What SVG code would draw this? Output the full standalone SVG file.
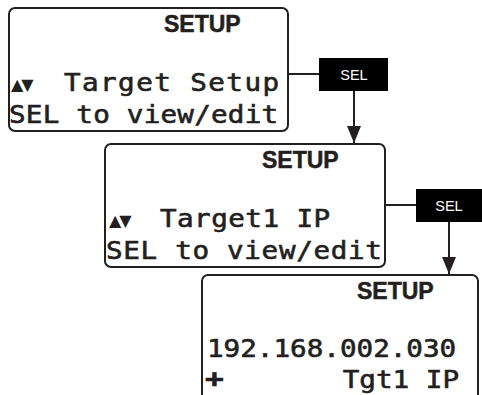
<svg xmlns="http://www.w3.org/2000/svg" width="482" height="395" viewBox="0 0 482 395">
<style>
.box{fill:#fff;stroke:#231f20;stroke-width:2}
.lcd{font-family:"DejaVu Sans Mono","Liberation Mono",monospace;font-size:24px;fill:#231f20;stroke:#231f20;stroke-width:0.6}
.arr{font-family:"DejaVu Sans","Liberation Sans",sans-serif;font-size:16px;fill:#231f20}
.title{font-family:"Liberation Sans",Arial,sans-serif;font-weight:bold;font-size:23px;fill:#231f20;stroke:#231f20;stroke-width:0.5}
.selbox{fill:#000}
.seltxt{font-family:"Liberation Sans",Arial,sans-serif;font-size:14.5px;fill:#fff;text-anchor:middle}
.conn{stroke:#231f20;stroke-width:2;fill:none}
</style>
<defs>
<marker id="ah" markerUnits="userSpaceOnUse" markerWidth="17" markerHeight="14" viewBox="0 0 17 14" refX="17" refY="7" orient="auto">
<path d="M0,0 L17,7 L0,14 z" fill="#231f20"/>
</marker>
</defs>
<g id="connectors">
<line class="conn" x1="288" y1="74" x2="320" y2="74"/>
<line class="conn" x1="354" y1="90" x2="354" y2="143" marker-end="url(#ah)"/>
<line class="conn" x1="385" y1="205" x2="417" y2="205"/>
<line class="conn" x1="449" y1="221" x2="449" y2="274" marker-end="url(#ah)"/>
</g>
<g id="screen1">
<rect class="box" x="9" y="8" width="279" height="123" rx="6"/>
<text class="title" x="164" y="32">SETUP</text>
<text class="arr" x="11" y="90" letter-spacing="-2">▲▼</text>
<text class="lcd" transform="translate(64,91) scale(1.15,1)" textLength="187" lengthAdjust="spacing">Target Setup</text>
<text class="lcd" transform="translate(9,123) scale(1.15,1)" textLength="234" lengthAdjust="spacing">SEL to view/edit</text>
</g>
<g id="sel1">
<rect class="selbox" x="319" y="58" width="69" height="33"/>
<text class="seltxt" x="354" y="80">SEL</text>
</g>
<g id="screen2">
<rect class="box" x="105" y="144" width="280" height="123" rx="6"/>
<text class="title" x="262" y="168">SETUP</text>
<text class="arr" x="109" y="226" letter-spacing="-2">▲▼</text>
<text class="lcd" transform="translate(160,227) scale(1.15,1)" textLength="148" lengthAdjust="spacing">Target1 IP</text>
<text class="lcd" transform="translate(106,259) scale(1.15,1)" textLength="240" lengthAdjust="spacing">SEL to view/edit</text>
</g>
<g id="sel2">
<rect class="selbox" x="416" y="189" width="68" height="33"/>
<text class="seltxt" x="449" y="211">SEL</text>
</g>
<g id="screen3">
<rect class="box" x="202" y="275" width="276" height="140" rx="6"/>
<text class="title" x="357" y="299">SETUP</text>
<text class="lcd" transform="translate(207,357) scale(1.15,1)">192.168.002.030</text>
<text class="lcd" transform="translate(205,387) scale(1.3,1)" font-size="28" font-weight="bold">+</text>
<text class="lcd" transform="translate(459,388) scale(1.15,1)" text-anchor="end">Tgt1 IP</text>
</g>
</svg>
